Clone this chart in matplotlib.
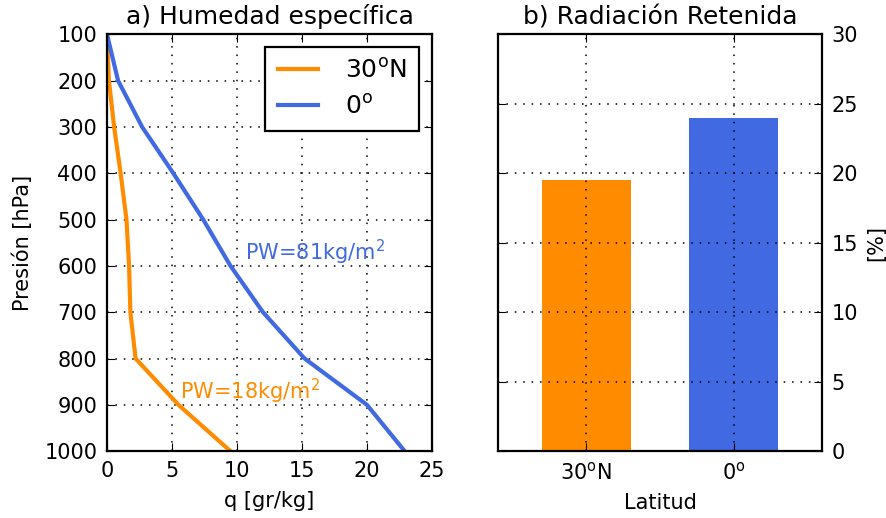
import matplotlib
matplotlib.use("Agg")
import matplotlib.pyplot as plt

# Specific humidity profiles
pressure = [100, 200, 300, 400, 500, 600, 700, 800, 900, 1000]
q_30n = [0.0, 0.15, 0.55, 1.05, 1.5, 1.7, 1.8, 2.2, 5.5, 9.5]
q_eq = [0.0, 0.85, 2.7, 5.1, 7.4, 9.5, 12.0, 15.2, 20.0, 22.9]
series_labels = ["30$^\\mathrm{o}$N", "0$^\\mathrm{o}$"]
pw_labels = ["PW=18kg/m$^2$", "PW=81kg/m$^2$"]

# Retained radiation per latitude
lat_labels = ["30$^\\mathrm{o}$N", "0$^\\mathrm{o}$"]
retained = [19.5, 24.0]

c_orange = "#FF8C00"
c_blue = "#4169E1"

plt.rcParams.update({
    "font.family": "DejaVu Sans",
    "font.size": 15,
    "xtick.direction": "in",
    "ytick.direction": "in",
    "xtick.top": True,
    "ytick.right": True,
    "xtick.major.size": 6,
    "ytick.major.size": 6,
    "xtick.major.pad": 7,
    "ytick.major.pad": 7,
    "axes.linewidth": 1.6,
    "mathtext.default": "regular",
})

fig = plt.figure(figsize=(8.87, 5.18), dpi=100)
ax1 = fig.add_axes([0.1206, 0.129, 0.3664, 0.805])
ax2 = fig.add_axes([0.5614, 0.129, 0.3653, 0.805])

grid_kw = dict(color="black", linestyle=(0, (1, 4.5)), linewidth=1.1)

# Panel a
ax1.plot(q_30n, pressure, color=c_orange, lw=3, label=series_labels[0])
ax1.plot(q_eq, pressure, color=c_blue, lw=3, label=series_labels[1])
ax1.set_xlim(0, 25)
ax1.set_ylim(1000, 100)
ax1.set_yticks(range(100, 1001, 100))
ax1.set_xticks(range(0, 26, 5))
ax1.grid(True, **grid_kw)
ax1.set_xlabel("q [gr/kg]", labelpad=7)
ax1.set_ylabel("Presión [hPa]", labelpad=8)
ax1.set_title("a) Humedad específica", fontsize=18, pad=7)
ax1.text(5.6, 870, pw_labels[0], color=c_orange, fontsize=15, va="center")
ax1.text(10.6, 570, pw_labels[1], color=c_blue, fontsize=15, va="center")
leg = ax1.legend(loc="upper right", fontsize=18, fancybox=False,
                 edgecolor="black", framealpha=1, handlelength=1.6,
                 borderpad=0.5, labelspacing=0.45, handletextpad=1.1)
leg.get_frame().set_linewidth(1.6)

# Panel b
xpos = [0, 1]
ax2.bar(xpos, retained, width=0.6, color=[c_orange, c_blue], edgecolor="none", zorder=2)
ax2.set_xlim(-0.6, 1.6)
ax2.set_ylim(0, 30)
ax2.set_xticks(xpos)
ax2.set_xticklabels(lat_labels)
ax2.yaxis.tick_right()
ax2.yaxis.set_ticks_position("both")
ax2.yaxis.set_label_position("right")
ax2.set_ylabel("[%]", labelpad=6)
ax2.set_xlabel("Latitud", labelpad=7)
ax2.set_title("b) Radiación Retenida", fontsize=18, pad=7)
ax2.grid(True, zorder=3, **grid_kw)
ax2.set_axisbelow(False)

fig.savefig("out.png", dpi=100, facecolor="white")
